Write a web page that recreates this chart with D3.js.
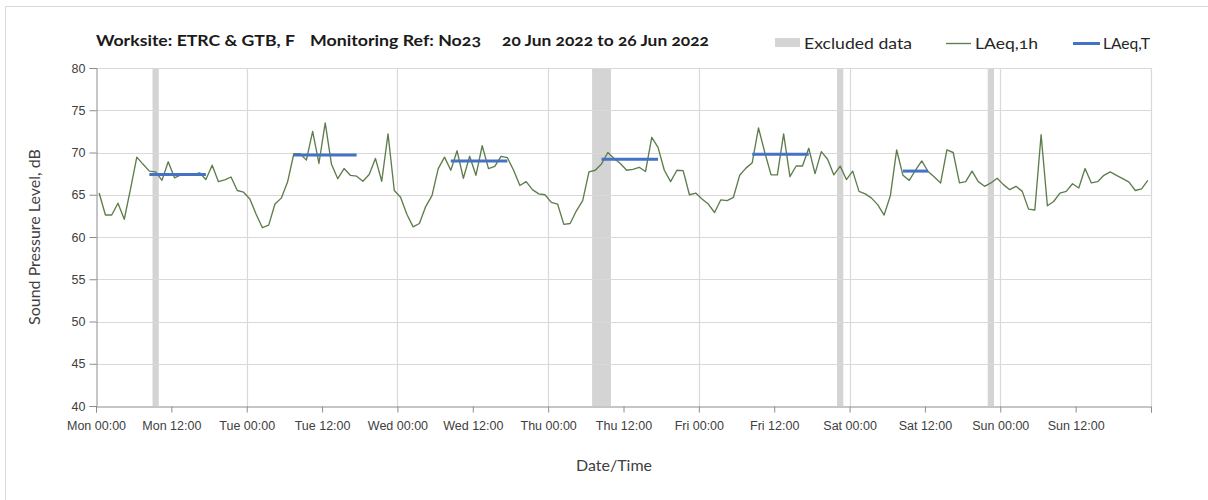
<!DOCTYPE html>
<html>
<head>
<meta charset="utf-8">
<script src="https://cdn.jsdelivr.net/npm/d3@7"></script>
<style>
  html, body { margin: 0; padding: 0; background: #fff; }
  svg { display: block; font-family: "Lato", "Open Sans", sans-serif; }
</style>
</head>
<body>
<svg id="chart" width="1208" height="500"></svg>
<script>
// Monitoring week, hourly LAeq,1h (dB), starting Mon 20 Jun 2022 00:00
const weekStart = "2022-06-20T00:00:00";
const weekEnd = "2022-06-27T00:00:00";

const laeq1hMon = [65.2, 62.6, 62.6, 64.0, 62.1, 65.7, 69.45, 68.6, 67.8, 67.7, 66.7, 68.9, 67.0, 67.35, 67.35, 67.4, 67.6, 66.8, 68.5, 66.55, 66.75, 67.1, 65.5, 65.3];
const laeq1hTue = [64.5, 62.7, 61.1, 61.4, 63.9, 64.6, 66.5, 69.85, 69.85, 69.1, 72.5, 68.7, 73.5, 68.6, 66.9, 68.1, 67.3, 67.2, 66.6, 67.4, 69.3, 66.6, 72.2, 65.5];
const laeq1hWed = [64.7, 62.7, 61.2, 61.6, 63.6, 64.9, 68.1, 69.45, 67.9, 70.2, 66.95, 69.55, 67.3, 70.8, 68.1, 68.35, 69.55, 69.4, 67.9, 66.1, 66.55, 65.6, 65.1, 65.0];
const laeq1hThu = [64.1, 63.9, 61.5, 61.6, 63.1, 64.3, 67.7, 67.9, 68.65, 70.0, 69.3, 68.7, 67.9, 68.0, 68.25, 67.75, 71.8, 70.6, 67.9, 66.55, 67.9, 67.85, 65.0, 65.2];
const laeq1hFri = [64.5, 63.9, 62.9, 64.4, 64.3, 64.7, 67.3, 68.15, 68.8, 72.9, 70.0, 67.35, 67.35, 72.2, 67.15, 68.4, 68.4, 70.5, 67.5, 70.1, 69.2, 67.35, 68.4, 66.8];
const laeq1hSat = [67.8, 65.4, 65.1, 64.6, 63.8, 62.6, 64.9, 70.3, 67.3, 66.7, 67.9, 69.0, 67.75, 67.1, 66.4, 70.3, 70.0, 66.4, 66.55, 67.8, 66.55, 66.0, 66.4, 66.95];
const laeq1hSun = [66.2, 65.6, 66.0, 65.4, 63.3, 63.2, 72.1, 63.7, 64.2, 65.2, 65.4, 66.3, 65.8, 68.1, 66.4, 66.55, 67.3, 67.7, 67.3, 66.9, 66.5, 65.5, 65.7, 66.7];

// LAeq,T over the working-hours period of each day
const periodStart = ["2022-06-20T08:00", "2022-06-21T07:00", "2022-06-22T08:00", "2022-06-23T08:00", "2022-06-24T08:00", "2022-06-25T08:00"];
const periodEnd   = ["2022-06-20T17:00", "2022-06-21T17:00", "2022-06-22T17:00", "2022-06-23T17:00", "2022-06-24T17:00", "2022-06-25T12:00"];
const laeqT       = [67.4, 69.7, 69.0, 69.2, 69.8, 67.8];

// Hours removed from the record
const excludedStart = ["2022-06-20T09:00", "2022-06-23T07:00", "2022-06-24T22:00", "2022-06-25T22:00"];
const excludedEnd   = ["2022-06-20T10:00", "2022-06-23T10:00", "2022-06-24T23:00", "2022-06-25T23:00"];

const yTicks = [40, 45, 50, 55, 60, 65, 70, 75, 80];

const titleParts = ["Worksite: ETRC & GTB, F", "Monitoring Ref: No23", "20 Jun 2022 to 26 Jun 2022"];
const legendLabels = ["Excluded data", "LAeq,1h", "LAeq,T"];

// ---------------------------------------------------------------
const svg = d3.select("#chart");
const margin = { left: 96, top: 68, right: 57, bottom: 94 };
const W = 1208, H = 500;
const innerW = W - margin.left - margin.right;
const innerH = H - margin.top - margin.bottom;

const parse = d3.isoParse;
const halfHour = 30 * 60 * 1000;
const t0 = parse(weekStart);

const hourly = [].concat(laeq1hMon, laeq1hTue, laeq1hWed, laeq1hThu, laeq1hFri, laeq1hSat, laeq1hSun)
  .map((v, i) => ({ t: new Date(+d3.timeHour.offset(t0, i) + halfHour), v }));

const x = d3.scaleTime().domain([t0, parse(weekEnd)]).range([margin.left, margin.left + innerW]);
const y = d3.scaleLinear().domain([40, 80]).range([margin.top + innerH, margin.top]);

const gridCol = "#d9d9d9";
const axisCol = "#8c8c8c";
const textCol = "#404040";

// outer frame edges
svg.append("line").attr("x1", 5.5).attr("x2", 5.5).attr("y1", 6).attr("y2", H).attr("stroke", gridCol);
svg.append("line").attr("x1", 5).attr("x2", W).attr("y1", 6.5).attr("y2", 6.5).attr("stroke", gridCol);

// excluded periods
svg.append("g").selectAll("rect")
  .data(excludedStart.map((s, i) => ({ s: parse(s), e: parse(excludedEnd[i]) })))
  .join("rect")
  .attr("x", d => x(d.s))
  .attr("width", d => x(d.e) - x(d.s))
  .attr("y", margin.top)
  .attr("height", innerH)
  .attr("fill", "#d4d4d4");

// horizontal gridlines
svg.append("g").selectAll("line")
  .data(yTicks.filter(v => v > 40))
  .join("line")
  .attr("x1", margin.left).attr("x2", margin.left + innerW)
  .attr("y1", d => Math.round(y(d)) + 0.5).attr("y2", d => Math.round(y(d)) + 0.5)
  .attr("stroke", gridCol).attr("stroke-width", 1.2);

// daily vertical gridlines
const days = d3.timeDay.range(d3.timeDay.offset(t0, 1), parse(weekEnd));
svg.append("g").selectAll("line")
  .data(days)
  .join("line")
  .attr("x1", d => Math.round(x(d)) + 0.5).attr("x2", d => Math.round(x(d)) + 0.5)
  .attr("y1", margin.top).attr("y2", margin.top + innerH)
  .attr("stroke", gridCol).attr("stroke-width", 1.2);

// right border
svg.append("line")
  .attr("x1", margin.left + innerW + 0.5).attr("x2", margin.left + innerW + 0.5)
  .attr("y1", margin.top).attr("y2", margin.top + innerH)
  .attr("stroke", gridCol).attr("stroke-width", 1.2);

// LAeq,1h line
svg.append("path")
  .datum(hourly)
  .attr("fill", "none")
  .attr("stroke", "#5e7d4c")
  .attr("stroke-width", 1.35)
  .attr("stroke-linejoin", "round")
  .attr("d", d3.line().x(d => x(d.t)).y(d => y(d.v)));

// LAeq,T segments
svg.append("g").selectAll("line")
  .data(laeqT.map((v, i) => ({ s: new Date(+parse(periodStart[i]) + halfHour), e: new Date(+parse(periodEnd[i]) + halfHour), v })))
  .join("line")
  .attr("x1", d => x(d.s)).attr("x2", d => x(d.e))
  .attr("y1", d => y(d.v)).attr("y2", d => y(d.v))
  .attr("stroke", "#4472c4").attr("stroke-width", 3);

// y axis
const yAxis = d3.axisLeft(y).tickValues(yTicks).tickSize(7).tickPadding(4);
const gy = svg.append("g").attr("transform", `translate(${margin.left + 0.5},0)`).call(yAxis);
gy.select(".domain").attr("stroke", axisCol);
gy.selectAll(".tick line").attr("stroke", axisCol);
gy.selectAll(".tick text").attr("fill", textCol).style("font-size", "12.5px")
  .style("font-variant-numeric", "oldstyle-nums");

// x axis
const xTicks = d3.timeHour.every(12).range(t0, d3.timeHour.offset(parse(weekEnd), 1));
const xAxis = d3.axisBottom(x).tickValues(xTicks).tickSize(6).tickPadding(9)
  .tickFormat(d => (+d === +parse(weekEnd)) ? "" : d3.timeFormat("%a %H:%M")(d));
const gx = svg.append("g").attr("transform", `translate(0,${margin.top + innerH + 0.5})`).call(xAxis);
gx.select(".domain").attr("stroke", axisCol);
gx.selectAll(".tick line").attr("stroke", axisCol);
gx.selectAll(".tick text").attr("fill", textCol).style("font-size", "12.5px")
  .style("font-variant-numeric", "oldstyle-nums");

// axis titles
svg.append("text")
  .attr("transform", `translate(40,${margin.top + innerH / 2}) rotate(-90)`)
  .attr("text-anchor", "middle")
  .attr("fill", textCol)
  .style("font-size", "16px")
  .text("Sound Pressure Level, dB");

svg.append("text")
  .attr("x", 614).attr("y", 471)
  .attr("text-anchor", "middle")
  .attr("fill", textCol)
  .style("font-size", "16px")
  .text("Date/Time");

// title, three blocks laid out across the header
const titleX = [96, 310, 502];
const titleW = [199, 171, 207];
svg.append("g").selectAll("text")
  .data(titleParts)
  .join("text")
  .attr("x", (d, i) => titleX[i]).attr("y", 46)
  .attr("textLength", (d, i) => titleW[i])
  .attr("lengthAdjust", "spacingAndGlyphs")
  .attr("fill", "#1a1a1a")
  .style("font-size", "16px").style("font-weight", "bold")
  .style("font-variant-numeric", "oldstyle-nums")
  .text(d => d);

// legend
const lg = svg.append("g");
lg.append("rect").attr("x", 775).attr("y", 38).attr("width", 25).attr("height", 9).attr("fill", "#d4d4d4");
lg.append("line").attr("x1", 946).attr("x2", 971).attr("y1", 43.5).attr("y2", 43.5).attr("stroke", "#5e7d4c").attr("stroke-width", 1.35);
lg.append("line").attr("x1", 1073).attr("x2", 1100).attr("y1", 43.5).attr("y2", 43.5).attr("stroke", "#4472c4").attr("stroke-width", 3);
const legendX = [804, 975, 1103];
const legendW = [108, 63, 47];
lg.selectAll("text")
  .data(legendLabels)
  .join("text")
  .attr("x", (d, i) => legendX[i]).attr("y", 49)
  .attr("textLength", (d, i) => legendW[i])
  .attr("lengthAdjust", "spacingAndGlyphs")
  .attr("fill", "#262626")
  .style("font-size", "16px")
  .style("font-variant-numeric", "oldstyle-nums")
  .text(d => d);
</script>
</body>
</html>
